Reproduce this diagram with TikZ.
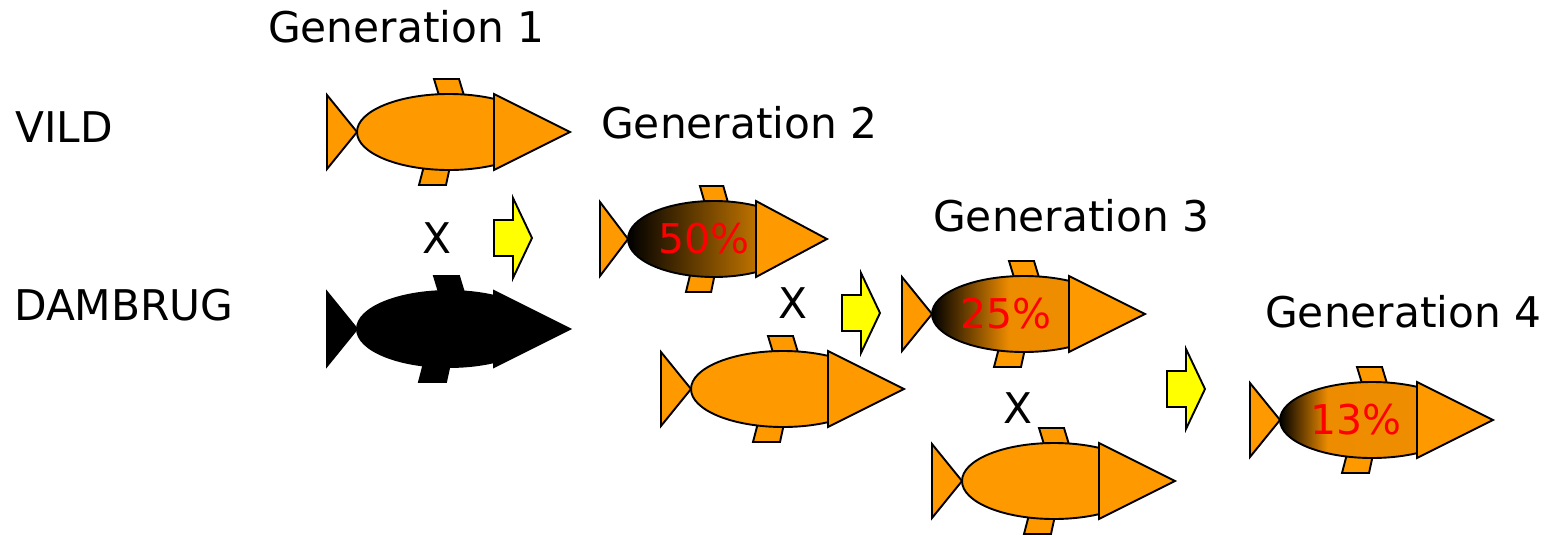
\documentclass[tikz,border=0pt]{standalone}
\usepackage{fontspec}
\setmainfont{DejaVu Sans}
\definecolor{fishorange}{RGB}{255,153,0}
\definecolor{deeporange}{RGB}{238,140,0}
\definecolor{arrowyellow}{RGB}{255,255,0}
\definecolor{pctred}{RGB}{255,0,0}
% body shadings: the ellipse spans 25bp..75bp
\pgfdeclarehorizontalshading{halfshade}{100bp}{color(0bp)=(black); color(25bp)=(black); color(75bp)=(fishorange); color(100bp)=(fishorange)}
\pgfdeclarehorizontalshading{quartershade}{100bp}{color(0bp)=(black); color(25bp)=(black); color(46bp)=(deeporange); color(75bp)=(deeporange!85!fishorange); color(100bp)=(fishorange)}
\pgfdeclarehorizontalshading{eighthshade}{100bp}{color(0bp)=(black); color(25bp)=(black); color(38bp)=(deeporange); color(75bp)=(deeporange!85!fishorange); color(100bp)=(fishorange)}
\tikzset{
  outline/.style={draw=black, line width=1.9pt, line join=miter},
  finpart/.style={outline, fill=fishorange},
  blackpart/.style={draw=black, line width=1.9pt, fill=black},
  label/.style={font=\fontsize{42.3}{50}\selectfont, inner sep=0pt},
  pct/.style={font=\fontsize{41}{48}\selectfont, inner sep=0pt, text=pctred},
  crossarrow/.style={outline, fill=arrowyellow},
}
% #1 x, #2 y, #3 xscale, #4 style of fins/tail, #5 style of body
\newcommand\drawfish[5]{%
  \begin{scope}[shift={(#1,#2)}, xscale=#3]
    \path[#4] (107,-53) -- (132,-53) -- (139,-30) -- (114,-30) -- cycle;
    \path[#4] (98,30) -- (124,30) -- (119,53) -- (92,53) -- cycle;
    \path[#5] (122,0) ellipse [x radius=92, y radius=38];
    \path[#4] (0,-37) -- (30,0) -- (0,37) -- cycle;
  \end{scope}}
\newcommand\drawhead[4]{%
  \begin{scope}[shift={(#1,#2)}, xscale=#3]
    \path[#4] (167,-38) -- (243,0) -- (167,38) -- cycle;
  \end{scope}}
\newcommand\drawarrow[2]{%
  \path[crossarrow] (#1,#2) ++(0,-18) -- ++(19,0) -- ++(0,-22) -- ++(19,40)
    -- ++(-19,40) -- ++(0,-22) -- ++(-19,0) -- cycle;}
\begin{document}
\begin{tikzpicture}[x=1pt, y=-1pt]
  \useasboundingbox (0,0) rectangle (1548,536);

  % headings and row labels
  \node[label, anchor=base west] (gen1) at (268,42) {Generation 1};
  \node[label, anchor=base west] (gen2) at (601,138) {Generation 2};
  \node[label, anchor=base west] (gen3) at (933,231) {Generation 3};
  \node[label, anchor=base west] (gen4) at (1265,327) {Generation 4};
  \node[label, anchor=base west] (vild) at (15,142) {VILD};
  \node[label, anchor=base west] (dambrug) at (14,320) {DAMBRUG};

  % generation 1: wild and farmed parents
  \drawfish{327}{132}{1}{finpart}{finpart}
  \drawhead{327}{132}{1}{finpart}
  \drawfish{327}{329}{1}{blackpart}{blackpart}
  \drawhead{327}{329}{1}{blackpart}

  % generation 2
  \drawfish{600}{239}{0.934}{finpart}{outline, shading=halfshade}
  \node[pct] (p50) at (704,239) {50\%};
  \drawhead{600}{239}{0.934}{finpart}
  \drawfish{661}{389}{1}{finpart}{finpart}
  \drawhead{661}{389}{1}{finpart}

  % generation 3
  \drawfish{902}{314}{1}{finpart}{outline, shading=quartershade}
  \node[pct] (p25) at (1006,314) {25\%};
  \drawhead{902}{314}{1}{finpart}
  \drawfish{932}{481}{1}{finpart}{finpart}
  \drawhead{932}{481}{1}{finpart}

  % generation 4
  \drawfish{1250}{420}{1}{finpart}{outline, shading=eighthshade}
  \node[pct] (p13) at (1356,420) {13\%};
  \drawhead{1250}{420}{1}{finpart}

  % crossings
  \node[label] (x1) at (437,238) {X};
  \node[label] (x2) at (793,303) {X};
  \node[label] (x3) at (1018,408) {X};
  \drawarrow{494}{238}
  \drawarrow{842}{313}
  \drawarrow{1167}{389}
\end{tikzpicture}
\end{document}
